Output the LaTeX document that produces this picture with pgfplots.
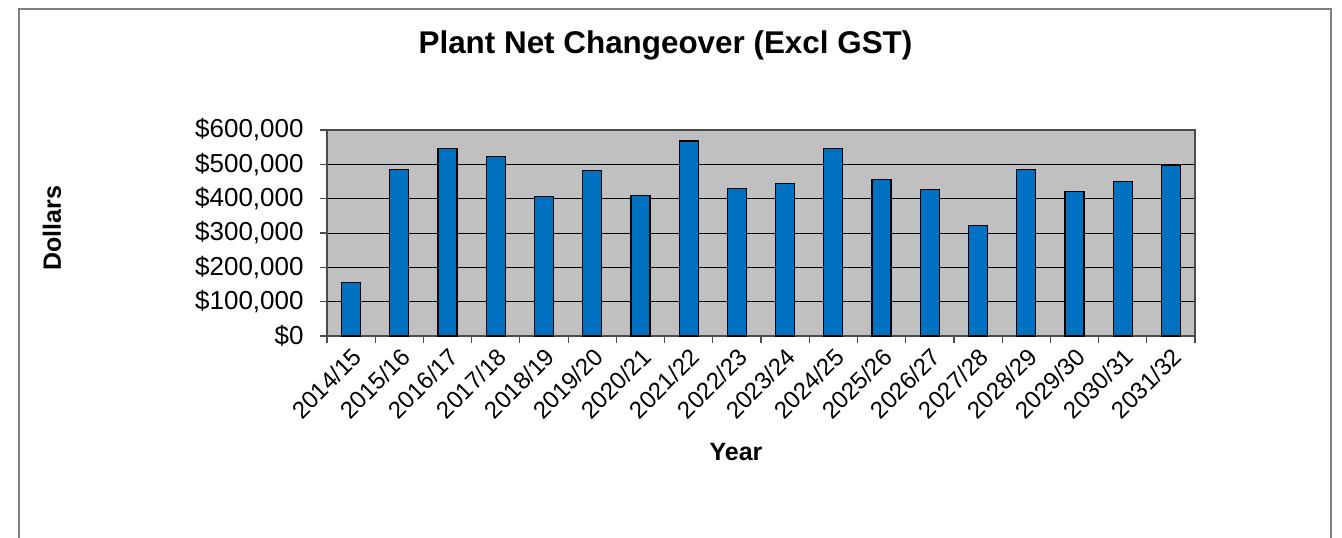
\documentclass[border=0pt]{standalone}
\usepackage{fontspec}
\setmainfont{Liberation Sans}
\usepackage{pgfplots}
\pgfplotsset{compat=1.18}
\definecolor{barblue}{RGB}{0,112,192}
\definecolor{plotgray}{RGB}{192,192,192}
\begin{document}
\begin{tikzpicture}[x=1pt,y=1pt]
\path[use as bounding box] (0,0) rectangle (671,268.5);
\draw[gray, line width=0.7pt] (9.5,-5) rectangle (665.5,264);
\begin{axis}[
  at={(163.5pt,100.5pt)}, anchor=south west,
  scale only axis, width=434pt, height=103pt,
  xmin=-0.5, xmax=17.5, ymin=0, ymax=600000,
  axis background/.style={fill=plotgray},
  ybar, bar width=9.5pt,
  xtick={0,...,17},
  xticklabels={2014/15,2015/16,2016/17,2017/18,2018/19,2019/20,2020/21,2021/22,2022/23,2023/24,2024/25,2025/26,2026/27,2027/28,2028/29,2029/30,2030/31,2031/32},
  major x tick style={draw=none},
  minor xtick={-0.5,0.5,...,17.5},
  ytick={0,100000,200000,300000,400000,500000,600000},
  yticklabels={\$0,{\$100,000},{\$200,000},{\$300,000},{\$400,000},{\$500,000},{\$600,000}},
  scaled y ticks=false,
  tick align=outside, tick pos=left,
  major tick length=3.5pt, minor tick length=3.5pt,
  tick style={gray!60!black, line width=0.6pt},
  minor tick style={gray!60!black, line width=0.6pt},
  ymajorgrids, grid style={black, line width=0.5pt},
  axis line style={gray!60!black, line width=0.7pt},
  yticklabel style={font=\fontsize{13}{15}\selectfont, inner sep=2pt, xshift=-6pt},
  xticklabel style={font=\fontsize{12}{14}\selectfont, rotate=45, anchor=north east, inner sep=1pt},
]
\addplot[fill=barblue, draw=black, line width=0.6pt] coordinates {
(0,156000) (1,484000) (2,545000) (3,524000) (4,407000) (5,483000)
(6,409000) (7,568000) (8,430000) (9,445000) (10,547000) (11,455000)
(12,426000) (13,321000) (14,484000) (15,422000) (16,450000) (17,498000)
};
\end{axis}
\node[font=\bfseries\fontsize{15.7}{18}\selectfont] at (332.75,246) {Plant Net Changeover (Excl GST)};
\node[font=\bfseries\fontsize{12.5}{14}\selectfont, rotate=90] at (26,154.5) {Dollars};
\node[font=\bfseries\fontsize{12.5}{14}\selectfont] at (368,42.5) {Year};
\end{tikzpicture}
\end{document}
